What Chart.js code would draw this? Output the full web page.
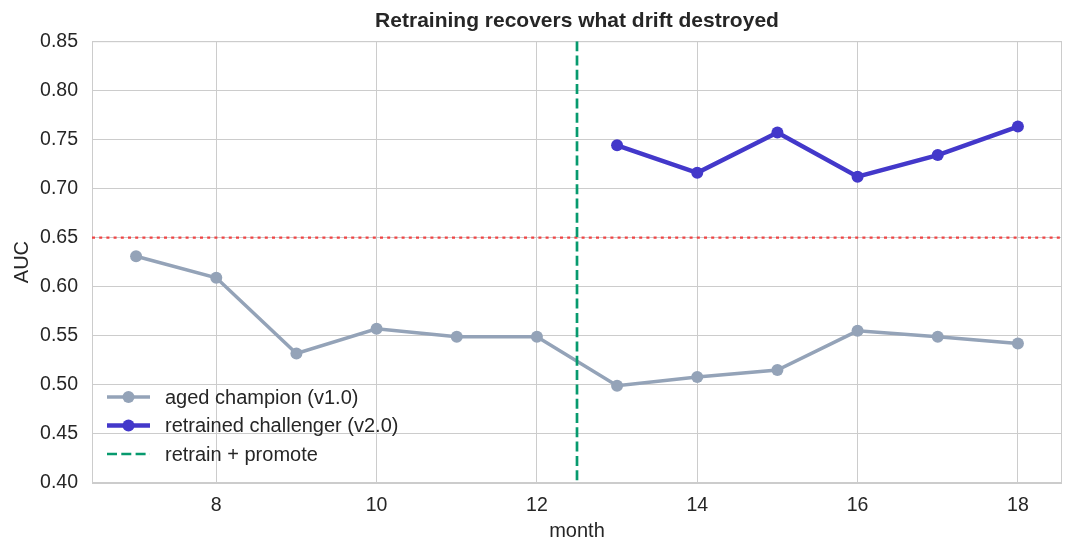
<!DOCTYPE html>
<html>
<head>
<meta charset="utf-8">
<script src="https://cdn.jsdelivr.net/npm/chart.js@4.4.1/dist/chart.umd.min.js"></script>
<style>
  body { margin: 0; background: #fff; }
  canvas { display: block; }
</style>
</head>
<body>
<canvas id="aucChart" width="1075" height="555"></canvas>
<script>
// months and AUC readings
const months = [7, 8, 9, 10, 11, 12, 13, 14, 15, 16, 17, 18];
const championAuc = [0.631, 0.609, 0.532, 0.557, 0.549, 0.549, 0.499, 0.508, 0.515, 0.555, 0.549, 0.542];
const challengerMonths = [13, 14, 15, 16, 17, 18];
const challengerAuc = [0.744, 0.716, 0.757, 0.712, 0.734, 0.763];
const threshold = 0.65;
const retrainMonth = 12.5;
const xTicks = [8, 10, 12, 14, 16, 18];
const yTicks = [0.40, 0.45, 0.50, 0.55, 0.60, 0.65, 0.70, 0.75, 0.80, 0.85];
const xRange = [6.45, 18.55];

const FONT = "'Liberation Sans', Arial, sans-serif";
const GRID = '#cccccc';

function toPoints(xs, ys) {
    return xs.map((x, i) => ({x: x, y: ys[i]}));
}

// box around the plot, like matplotlib spines
const frameBox = {
    id: 'frameBox',
    beforeDatasetsDraw(chart) {
        const a = chart.chartArea, ctx = chart.ctx;
        ctx.save();
        ctx.strokeStyle = GRID;
        ctx.lineWidth = 1;
        ctx.strokeRect(a.left + 0.5, a.top + 0.5, a.width - 1, a.height - 1);
        ctx.restore();
    }
};

// legend drawn inside the lower-left corner
const insideLegend = {
    id: 'insideLegend',
    afterDatasetsDraw(chart) {
        const a = chart.chartArea, ctx = chart.ctx;
        const shown = chart.data.datasets.filter(d => d.label);
        ctx.save();
        ctx.font = '20px ' + FONT;
        ctx.textBaseline = 'middle';
        shown.forEach((d, i) => {
            const y = a.bottom - 86 + i * 28.5;
            const x0 = a.left + 15, x1 = a.left + 58;
            ctx.strokeStyle = d.borderColor;
            ctx.lineWidth = d.borderWidth;
            ctx.setLineDash(d.borderDash || []);
            ctx.beginPath();
            ctx.moveTo(x0, y);
            ctx.lineTo(x1, y);
            ctx.stroke();
            ctx.setLineDash([]);
            if (d.pointRadius) {
                ctx.fillStyle = d.borderColor;
                ctx.beginPath();
                ctx.arc((x0 + x1) / 2, y, d.pointRadius, 0, Math.PI * 2);
                ctx.fill();
            }
            ctx.fillStyle = '#262626';
            ctx.fillText(d.label, a.left + 73, y + 1);
        });
        ctx.restore();
    }
};

const ctx = document.getElementById('aucChart').getContext('2d');
const chart = new Chart(ctx, {
    type: 'line',
    data: {
        datasets: [
            {
                label: '',
                data: toPoints(xRange, [threshold, threshold]),
                borderColor: '#ef4444',
                borderWidth: 2.3,
                borderDash: [3, 4.2],
                pointRadius: 0,
                order: 3
            },
            {
                label: 'aged champion (v1.0)',
                data: toPoints(months, championAuc),
                borderColor: '#94a3b8',
                backgroundColor: '#94a3b8',
                borderWidth: 3.5,
                pointRadius: 6,
                pointBorderWidth: 0,
                order: 2
            },
            {
                label: 'retrained challenger (v2.0)',
                data: toPoints(challengerMonths, challengerAuc),
                borderColor: '#4338ca',
                backgroundColor: '#4338ca',
                borderWidth: 4.5,
                pointRadius: 6,
                pointBorderWidth: 0,
                order: 1
            },
            {
                label: 'retrain + promote',
                data: toPoints([retrainMonth, retrainMonth], [yTicks[yTicks.length - 1], yTicks[0]]),
                borderColor: '#079a6e',
                borderWidth: 2.7,
                borderDash: [10, 4.3],
                pointRadius: 0,
                order: 0
            }
        ]
    },
    options: {
        responsive: false,
        animation: false,
        layout: {padding: {left: 0, right: 13, top: 0, bottom: 0}},
        plugins: {
            legend: {display: false},
            tooltip: {enabled: false},
            title: {
                display: true,
                fullSize: false,
                text: 'Retraining recovers what drift destroyed',
                color: '#262626',
                font: {family: FONT, size: 21, weight: 'bold'},
                padding: {top: 9, bottom: 7}
            }
        },
        scales: {
            x: {
                type: 'linear',
                min: xRange[0],
                max: xRange[1],
                afterBuildTicks: s => { s.ticks = xTicks.map(v => ({value: v})); },
                afterFit: s => { s.height = 72; },
                grid: {color: GRID, lineWidth: 1, drawTicks: false},
                border: {display: false},
                ticks: {
                    color: '#262626',
                    padding: 11,
                    font: {family: FONT, size: 19.5},
                    callback: v => v
                },
                title: {
                    display: true,
                    text: 'month',
                    color: '#262626',
                    font: {family: FONT, size: 20},
                    padding: {top: 4, bottom: 12}
                }
            },
            y: {
                min: yTicks[0],
                max: yTicks[yTicks.length - 1],
                afterBuildTicks: s => { s.ticks = yTicks.map(v => ({value: v})); },
                afterFit: s => { s.width = 92; },
                grid: {color: GRID, lineWidth: 1, drawTicks: false},
                border: {display: false},
                ticks: {
                    color: '#262626',
                    padding: 14,
                    font: {family: FONT, size: 19.5},
                    callback: v => v.toFixed(2)
                },
                title: {
                    display: true,
                    text: 'AUC',
                    color: '#262626',
                    font: {family: FONT, size: 20},
                    padding: {top: 10, bottom: 4}
                }
            }
        }
    },
    plugins: [frameBox, insideLegend]
});
</script>
</body>
</html>
